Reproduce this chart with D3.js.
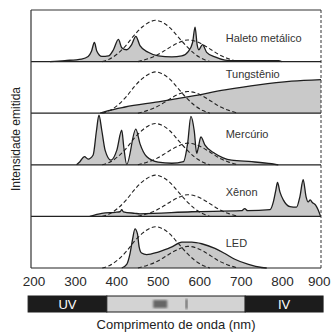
<!DOCTYPE html>
<html>
<head>
<meta charset="utf-8">
<script src="https://cdn.jsdelivr.net/npm/d3@7"></script>
<style>
  body { margin: 0; background: #fff; }
  text { font-family: Arial, "Liberation Sans", sans-serif; }
</style>
</head>
<body>
<div id="chart"></div>
<script>
// lamp names, top to bottom
var lamps = ["Haleto metálico", "Tungstênio", "Mercúrio", "Xênon", "LED"];

// emission spectra: [wavelength nm, relative intensity]
var haleto = [[246,0],[282,0.02],[322,0.05],[338,0.1],[346,0.2],[353,0.37],[359,0.2],[371,0.1],[387,0.11],
  [399,0.23],[411,0.43],[419,0.27],[431,0.23],[443,0.33],[453,0.49],[463,0.31],[483,0.18],[507,0.11],
  [540,0.09],[564,0.11],[580,0.2],[590,0.37],[596,0.67],[601,0.33],[605,0.23],[614,0.33],[624,0.18],
  [644,0.09],[668,0.03],[692,0.02],[797,0.02],[805,0]];
var tungstenio = [[367,0],[387,0.05],[427,0.12],[507,0.22],[588,0.33],[668,0.45],[749,0.55],[829,0.62],[900,0.65]];
var mercurio = [[310,0],[318,0.06],[329,0.16],[338,0.11],[350,0.19],[358,0.66],[364,0.96],[371,0.66],[379,0.28],
  [393,0.09],[407,0.28],[419,0.67],[424,0.34],[431,0.01],[453,0.69],[463,0.41],[479,0.16],[507,0.05],
  [540,0.03],[568,0.06],[578,0.41],[586,0.94],[594,0.66],[600,0.22],[604,0.34],[610,0.54],[620,0.38],
  [644,0.22],[684,0.09],[733,0.06],[781,0.02],[797,0]];
var xenon = [[342,0],[371,0.06],[403,0.08],[415,0.09],[419,0.13],[423,0.09],[451,0.06],[463,0.05],[588,0.09],
  [708,0.11],[716,0.15],[723,0.11],[777,0.13],[785,0.28],[791,0.51],[795,0.66],[801,0.47],[809,0.32],
  [825,0.19],[841,0.18],[849,0.38],[857,0.71],[864,0.38],[869,0.28],[874,0.32],[879,0.27],[887,0.22],
  [893,0.13],[899,0]];
var led = [[419,0],[431,0.07],[439,0.28],[445,0.55],[451,0.76],[457,0.66],[461,0.41],[467,0.29],[479,0.26],
  [507,0.31],[540,0.41],[564,0.5],[588,0.5],[612,0.47],[644,0.38],[668,0.28],[692,0.17],[725,0.07],
  [757,0.01],[769,0]];
var spectra = [haleto, tungstenio, mercurio, xenon, led];

// dashed sensitivity curves (same in every panel)
var sensA = [[372,0],[390,0.05],[410,0.16],[430,0.32],[450,0.52],[470,0.68],[490,0.78],[500,0.8],[515,0.77],
  [535,0.66],[555,0.48],[575,0.3],[595,0.15],[615,0.05],[632,0]];
var sensB = [[458,0],[480,0.05],[500,0.11],[520,0.2],[540,0.3],[560,0.38],[578,0.42],[595,0.4],[615,0.33],
  [635,0.23],[655,0.13],[675,0.06],[700,0]];

var xTicks = [200, 300, 400, 500, 600, 700, 800, 900];
var regions = [["UV", 193, 383], ["", 383, 717], ["IV", 717, 905]];

// layout
var width = 332, height = 333;
var labelDy = [28, 13, 21, 27, 27];

var svg = d3.select("#chart").append("svg")
  .attr("width", width).attr("height", height);

var x = d3.scaleLinear().domain([200, 900]).range([31, 321]);
var band = d3.scaleBand().domain(lamps).range([10, 268]);

var panels = svg.selectAll("g.panel")
  .data(lamps)
  .enter().append("g")
  .attr("class", "panel")
  .attr("transform", function (d) { return "translate(0," + band(d) + ")"; });

panels.each(function (name, i) {
  var g = d3.select(this);
  var y = d3.scaleLinear().domain([0, 1]).range([band.bandwidth(), 0]);

  var area = d3.area()
    .x(function (d) { return x(d[0]); })
    .y0(y(0))
    .y1(function (d) { return y(d[1]); })
    .curve(d3.curveMonotoneX);
  var line = d3.line()
    .x(function (d) { return x(d[0]); })
    .y(function (d) { return y(d[1]); })
    .curve(d3.curveMonotoneX);

  g.append("path").attr("d", area(spectra[i]))
    .attr("fill", "#c9c9c9");

  [sensA, sensB].forEach(function (s) {
    g.append("path").attr("d", line(s))
      .attr("fill", "none").attr("stroke", "#222")
      .attr("stroke-width", 1.1).attr("stroke-dasharray", "4,2.5");
  });

  g.append("path").attr("d", line(spectra[i]))
    .attr("fill", "none").attr("stroke", "#1e1e1e").attr("stroke-width", 1.3);

  // panel bottom line
  g.append("line")
    .attr("x1", x(200)).attr("x2", x(900))
    .attr("y1", y(0)).attr("y2", y(0))
    .attr("stroke", "#222").attr("stroke-width", 1.2);

  g.append("text")
    .attr("x", x(670)).attr("y", labelDy[i])
    .attr("dy", "0.35em")
    .attr("font-size", 11).attr("fill", "#333")
    .text(name);
});

// frame: solid top and left, dashed right
svg.append("line")
  .attr("x1", x(200)).attr("x2", x(900)).attr("y1", band.range()[0]).attr("y2", band.range()[0])
  .attr("stroke", "#333").attr("stroke-width", 1.2);
svg.append("line")
  .attr("x1", x(200)).attr("x2", x(200)).attr("y1", band.range()[0]).attr("y2", band.range()[1])
  .attr("stroke", "#333").attr("stroke-width", 1.2);
svg.append("line")
  .attr("x1", x(900)).attr("x2", x(900)).attr("y1", band.range()[0]).attr("y2", band.range()[1])
  .attr("stroke", "#333").attr("stroke-width", 1).attr("stroke-dasharray", "3,2");

// x axis labels, no ticks
var axis = svg.append("g")
  .attr("transform", "translate(2.5,276)")
  .call(d3.axisBottom(x).tickValues(xTicks).tickSize(0).tickPadding(0));
axis.select(".domain").remove();
axis.selectAll("text")
  .attr("font-size", 13.5).attr("fill", "#2a2a2a");
// keep the last label inside the picture
axis.selectAll("text").filter(function (d) { return d === 900; })
  .attr("text-anchor", "end").attr("x", 6.5);

// UV / visible / IV bar
var bar = svg.append("g").attr("transform", "translate(0,296)");
bar.selectAll("rect")
  .data(regions)
  .enter().append("rect")
  .attr("x", function (d) { return x(d[1]); })
  .attr("width", function (d) { return x(d[2]) - x(d[1]); })
  .attr("height", 16)
  .attr("fill", function (d) { return d[0] ? "#1c1c1c" : "#d3d3d3"; })
  .attr("stroke", "#1c1c1c").attr("stroke-width", 1);
bar.selectAll("text")
  .data(regions.filter(function (d) { return d[0]; }))
  .enter().append("text")
  .attr("x", function (d) { return (x(d[1]) + x(d[2])) / 2; })
  .attr("y", 13)
  .attr("text-anchor", "middle")
  .attr("font-size", 13).attr("fill", "#fff")
  .text(function (d) { return d[0]; });

// blurred marks in the visible band
var blur = svg.append("defs").append("filter").attr("id", "blur");
blur.append("feGaussianBlur").attr("stdDeviation", 1.2);
bar.append("rect").attr("x", x(495)).attr("y", 4).attr("width", 14).attr("height", 8)
  .attr("fill", "#666").attr("filter", "url(#blur)");
bar.append("rect").attr("x", x(573)).attr("y", 3).attr("width", 2).attr("height", 10)
  .attr("fill", "#555").attr("filter", "url(#blur)");

// axis titles
svg.append("text")
  .attr("x", (x(200) + x(900)) / 2).attr("y", 329)
  .attr("text-anchor", "middle")
  .attr("font-size", 13).attr("fill", "#222")
  .text("Comprimento de onda (nm)");
svg.append("text")
  .attr("transform", "translate(20," + (band.range()[0] + band.range()[1]) / 2 + ") rotate(-90)")
  .attr("text-anchor", "middle")
  .attr("font-size", 12).attr("fill", "#222")
  .text("Intensidade emitida");
</script>
</body>
</html>
